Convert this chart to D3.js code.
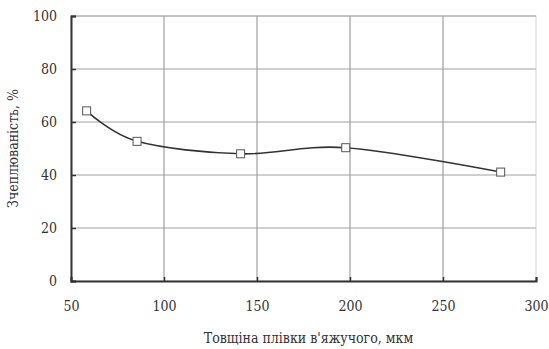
<!DOCTYPE html>
<html>
<head>
<meta charset="utf-8">
<script src="https://cdn.jsdelivr.net/npm/d3@7"></script>
<style>
  body { margin: 0; background: #fff; }
  svg text { fill: #333; font-stretch: condensed; }
</style>
</head>
<body>
<svg width="549" height="349"></svg>
<script>
const thickness = [58.4, 85.5, 141.2, 197.7, 281];
const adhesion = [64.2, 52.7, 48.0, 50.3, 41.1];
const xTicks = [50, 100, 150, 200, 250, 300];
const yTicks = [0, 20, 40, 60, 80, 100];

const serif = "'DejaVu Serif Condensed', 'DejaVu Serif', serif";

const margin = {top: 16, right: 13, bottom: 68, left: 71},
      width = 549 - margin.left - margin.right,
      height = 349 - margin.top - margin.bottom;

const svg = d3.select("svg");
const chart = svg.append("g")
  .attr("transform", "translate(" + margin.left + "," + margin.top + ")");

const x = d3.scaleLinear().domain([50, 300]).range([0, width]);
const y = d3.scaleLinear().domain([0, 100]).range([height, 0]);

// outer frame (light)
chart.append("rect")
  .attr("width", width).attr("height", height)
  .attr("fill", "none").attr("stroke", "#d4d4d4");

// grid
chart.append("g").selectAll("line")
  .data(xTicks.slice(1, -1))
  .enter().append("line")
  .attr("x1", d => x(d)).attr("x2", d => x(d))
  .attr("y1", 0).attr("y2", height)
  .attr("stroke", "#8c8c8c").attr("stroke-width", 1);

chart.append("g").selectAll("line")
  .data(yTicks.slice(1))
  .enter().append("line")
  .attr("x1", 0).attr("x2", width)
  .attr("y1", d => y(d)).attr("y2", d => y(d))
  .attr("stroke", "#a0a0a0").attr("stroke-width", 1);

// axes
const xAxis = chart.append("g")
  .attr("transform", "translate(0," + height + ")")
  .call(d3.axisBottom(x).tickValues(xTicks).tickSize(-4).tickPadding(20));
const yAxis = chart.append("g")
  .call(d3.axisLeft(y).tickValues(yTicks).tickSize(-5).tickPadding(14));

[xAxis, yAxis].forEach(a => {
  a.attr("font-family", serif);
  a.select(".domain").attr("stroke", "#333").attr("stroke-width", 2);
  a.selectAll(".tick line").attr("stroke", "#333").attr("stroke-width", 1.5);
  a.selectAll(".tick text")
    .attr("font-family", serif)
    .attr("font-size", 14).attr("fill", "#333");
});

// curve
const line = d3.line()
  .x((d, i) => x(thickness[i]))
  .y(d => y(d))
  .curve(d3.curveCatmullRom.alpha(0));

chart.append("path")
  .datum(adhesion)
  .attr("d", line)
  .attr("fill", "none")
  .attr("stroke", "#333")
  .attr("stroke-width", 1.6);

// markers
chart.append("g").selectAll("rect")
  .data(adhesion)
  .enter().append("rect")
  .attr("x", (d, i) => x(thickness[i]) - 4)
  .attr("y", d => y(d) - 4)
  .attr("width", 8).attr("height", 8)
  .attr("fill", "#fff")
  .attr("stroke", "#555").attr("stroke-width", 1);

// axis titles
svg.append("text")
  .attr("x", margin.left + width / 2 + 5)
  .attr("y", 343)
  .attr("text-anchor", "middle")
  .attr("font-family", serif)
  .attr("font-size", 14)
  .text("Товщіна плівки в'яжучого, мкм");

svg.append("text")
  .attr("transform", "translate(18," + (margin.top + height / 2) + ") rotate(-90)")
  .attr("text-anchor", "middle")
  .attr("font-family", serif)
  .attr("font-size", 14)
  .text("Зчеплюваність, %");
</script>
</body>
</html>
